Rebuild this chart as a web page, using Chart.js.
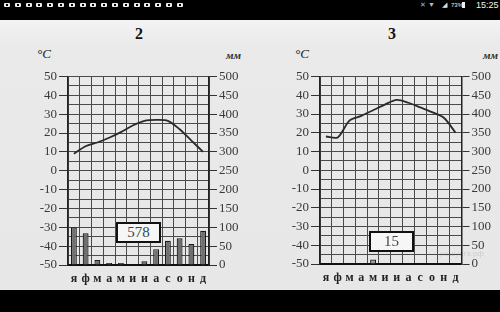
<!DOCTYPE html>
<html>
<head>
<meta charset="utf-8">
<script src="https://cdn.jsdelivr.net/npm/chart.js@4"></script>
<style>
  html, body { margin:0; padding:0; }
  body { width:500px; height:312px; position:relative; overflow:hidden;
         background: linear-gradient(#f3f3f3 0px, #f3f3f3 21px, #eaeaea 45px, #e7e7e7 290px); }
  .abs { position:absolute; }
  #status { left:0; top:0; width:500px; height:20px; background:#000; }
  #bottombar { left:0; top:290px; width:500px; height:22px; background:#000; }
  .sq { position:absolute; top:3px; width:6px; height:4px; background:#eee; border-radius:1px; }
  .sq::after { content:''; position:absolute; left:2px; top:1px; width:2px; height:2px; background:#000; }
  canvas { position:absolute; }
  .title { font-family:"Liberation Serif", serif; font-weight:bold; font-size:16px; color:#111; }
  .unitC { font-family:"Liberation Serif", serif; font-style:italic; font-size:13px; color:#222; }
  .unitM { font-family:"Liberation Serif", serif; font-style:italic; font-weight:bold; font-size:11px; color:#333; }
  .box { border:2px solid #111; background:#f6f6f6; box-sizing:border-box;
         font-family:"Liberation Serif", serif; font-size:15px; color:#444; text-align:center; }
  .wm { font-family:"Liberation Sans", sans-serif; font-size:8px; color:rgba(0,0,0,0.12); }
</style>
</head>
<body>
<div id="status" class="abs"></div>
<div id="bottombar" class="abs"></div>
<div class="abs" style="left:420px;top:1px;color:#bbb;font:7px 'Liberation Sans';">✕</div>
<div class="abs" style="left:428px;top:1px;color:#bbb;font:7px 'Liberation Sans';">▼</div>
<div class="abs" style="left:442px;top:1px;color:#ddd;font:7px 'Liberation Sans';">◢</div>
<div class="abs" style="left:451px;top:2px;color:#eee;font:6px 'Liberation Sans';">73%</div>
<div class="abs" style="left:462px;top:2px;width:3px;height:6px;background:#eee;"></div>
<div class="abs" style="left:476px;top:0px;color:#f2f2f2;font:9px 'Liberation Sans';">15:25</div>

<div class="abs title" style="left:135px;top:25px;">2</div>
<div class="abs title" style="left:388px;top:25px;">3</div>
<div class="abs unitC" style="left:37px;top:46px;">°C</div>
<div class="abs unitC" style="left:295px;top:46px;">°C</div>
<div class="abs unitM" style="left:226px;top:49px;">мм</div>
<div class="abs unitM" style="left:483px;top:49px;">мм</div>

<canvas id="c2" width="250" height="268" style="left:0px;top:22px;"></canvas>
<canvas id="c3" width="245" height="268" style="left:255px;top:22px;"></canvas>

<div class="abs box" style="left:116px;top:222px;width:45px;height:21px;line-height:17px;">578</div>
<div class="abs box" style="left:369px;top:231px;width:45px;height:21px;line-height:17px;">15</div>
<div class="abs wm" style="left:440px;top:249px;">решуегэ.рф</div>

<script>
// ---- data ----
const months = ['я','ф','м','а','м','и','и','а','с','о','н','д'];
const temp2 = [9, 13, 15, 17.5, 20.5, 24, 26.5, 27, 26.5, 22, 16, 10];
const precip2 = [100, 84, 13, 5, 5, 0, 10, 42, 64, 71, 56, 91];
const total2 = '578';
const temp3 = [18, 17.5, 26.5, 29, 32, 35, 37.5, 36, 33.5, 31, 28, 20];
const precip3 = [0, 0, 0, 0, 12, 0, 0, 0, 0, 0, 0, 0];
const total3 = '15';
const tempMin = -50, tempMax = 50, tempStep = 5, tempLabelStep = 10;
const precMin = 0, precMax = 500, precStep = 50;

// status bar icons
(function(){
  const st = document.getElementById('status');
  for (let i = 0; i < 17; i++) {
    const d = document.createElement('div');
    d.className = 'sq';
    d.style.left = (4 + i * 10.8) + 'px';
    st.appendChild(d);
  }
})();

const serif = 'Liberation Serif';

function makeChart(id, temps, precs, g) {
  return new Chart(document.getElementById(id), {
    type: 'bar',
    data: {
      labels: months,
      datasets: [
        { type: 'line', data: temps, yAxisID: 'y', borderColor: '#2a2a2a', borderWidth: 1.8,
          pointRadius: 0, tension: 0.3, fill: false, order: 0 },
        { type: 'bar', data: precs, yAxisID: 'y1', backgroundColor: g.barColor,
          borderColor: '#1a1a1a', borderWidth: 1.2, barPercentage: 0.5, categoryPercentage: 1, order: 1 }
      ]
    },
    options: {
      responsive: false, animation: false, devicePixelRatio: 1,
      layout: { padding: { top: g.padTop, left: 0, right: 0, bottom: 0 } },
      plugins: { legend: { display: false }, tooltip: { enabled: false } },
      scales: {
        x: {
          offset: true,
          grid: { offset: true, color: '#4a4a4a', lineWidth: 1, drawTicks: false },
          border: { color: '#111', width: 2 },
          ticks: { color: '#222', padding: 7, font: { family: serif, size: 12, weight: 'bold' }, maxRotation: 0, autoSkip: false },
          afterFit: s => { s.height = g.xH; }
        },
        y: {
          position: 'left', min: tempMin, max: tempMax,
          ticks: { stepSize: tempStep, autoSkip: false, color: '#3a3a3a', padding: 2,
                   font: { family: serif, size: 13 },
                   callback: v => (v % tempLabelStep === 0 ? v : '') },
          grid: { color: '#4a4a4a', lineWidth: 1, tickLength: 9,
                  tickColor: c => (c.tick && c.tick.value % tempLabelStep === 0 ? '#333' : 'rgba(0,0,0,0)') },
          border: { color: '#222', width: 1.5 },
          afterFit: s => { s.width = g.yW; }
        },
        y1: {
          position: 'right', min: precMin, max: precMax,
          ticks: { stepSize: precStep, autoSkip: false, color: '#3a3a3a', padding: 2,
                   font: { family: serif, size: 13 } },
          grid: { drawOnChartArea: false, tickLength: 8, tickColor: '#333' },
          border: { color: '#222', width: 1.5 },
          afterFit: s => { s.width = g.y1W; }
        }
      }
    }
  });
}

makeChart('c2', temp2, precip2, { padTop: 54.5, xH: 25, yW: 68, y1W: 41, barColor: '#6f6f6f' });
makeChart('c3', temp3, precip3, { padTop: 54.5, xH: 26, yW: 65, y1W: 38.5, barColor: '#999' });
</script>
</body>
</html>
